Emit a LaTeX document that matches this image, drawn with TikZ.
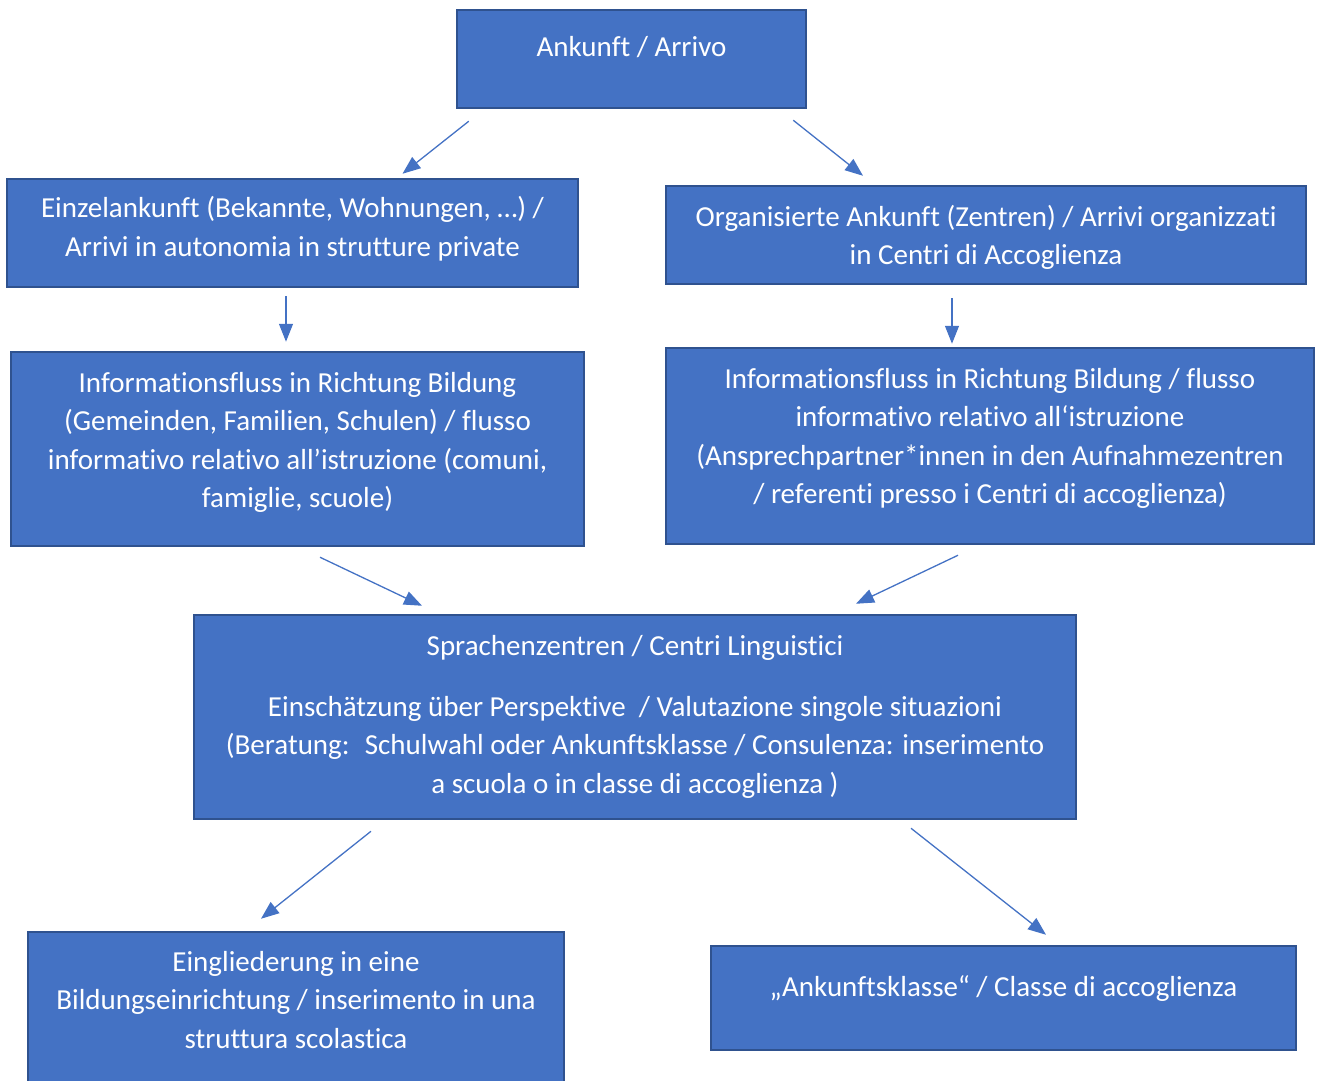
\documentclass[tikz,border=0pt]{standalone}
\usepackage{fontspec}
\setmainfont{Carlito}[Ligatures={NoCommon}]
\usetikzlibrary{arrows.meta}
\definecolor{boxblue}{HTML}{4472C4}
\definecolor{boxedge}{HTML}{2F528F}

\begin{document}
\begin{tikzpicture}[x=1pt, y=-1pt,
    stepbox/.style={draw=boxedge, line width=2.5pt, fill=boxblue, text=white,
        align=center, inner sep=0pt, font=\fontsize{29}{38.5}\selectfont},
    flow/.style={draw=boxblue, line width=1.3pt, -{Triangle[length=18pt,width=14pt]}}]
    \useasboundingbox (0,0) rectangle (1320,1081);
    % boxes
    \node[stepbox, minimum width=349, minimum height=98] (arrivo) at (631.5,59)
        {Ankunft / Arrivo\rule[-26pt]{0pt}{1pt}};
    \node[stepbox, minimum width=571, minimum height=108] (einzel) at (292.5,233)
        {Einzelankunft (Bekannte, Wohnungen, …) /\\Arrivi in autonomia in strutture private\rule[-13pt]{0pt}{1pt}};
    \node[stepbox, minimum width=640, minimum height=98] (organis) at (986,235)
        {\rule{0pt}{26pt}Organisierte Ankunft (Zentren) / Arrivi organizzati\\in Centri di Accoglienza};
    \node[stepbox, minimum width=573, minimum height=194] (infoL) at (297.5,449)
        {Informationsfluss in Richtung Bildung\\(Gemeinden, Familien, Schulen) / flusso\\informativo relativo all’istruzione (comuni,\\famiglie, scuole)\rule[-18pt]{0pt}{1pt}};
    \node[stepbox, minimum width=648, minimum height=196] (infoR) at (990,446)
        {Informationsfluss in Richtung Bildung / flusso\\informativo relativo all‘istruzione\\(Ansprechpartner*innen in den Aufnahmezentren\\/ referenti presso i Centri di accoglienza)\rule[-20pt]{0pt}{1pt}};
    \node[stepbox, minimum width=882, minimum height=204] (sprachen) at (635,717)
        {Sprachenzentren / Centri Linguistici\\[22pt]Einschätzung über Perspektive \ / Valutazione singole situazioni\\(Beratung: \ Schulwahl oder Ankunftsklasse / Consulenza: inserimento\\a scuola o in classe di accoglienza )};
    \node[stepbox, minimum width=536, minimum height=170] (eingl) at (296,1017)
        {Eingliederung in eine\\Bildungseinrichtung / inserimento in una\\struttura scolastica\rule[-35pt]{0pt}{1pt}};
    \node[stepbox, minimum width=585, minimum height=104] (klasse) at (1003.5,998)
        {„Ankunftsklasse“ / Classe di accoglienza\rule[-23pt]{0pt}{1pt}};
    % arrows
    \draw[flow] ([shift={(13,12)}]arrivo.south west) -- ([shift={(110,-4)}]einzel.north);
    \draw[flow] ([shift={(-14,11)}]arrivo.south east) -- ([shift={(-123,-9)}]organis.north);
    \draw[flow] ([shift={(-6.5,8)}]einzel.south) -- ([shift={(-11.5,-9)}]infoL.north);
    \draw[flow] ([shift={(-34,13)}]organis.south) -- ([shift={(-38,-3)}]infoR.north);
    \draw[flow] ([shift={(22.5,10)}]infoL.south) -- ([shift={(-213,-8)}]sprachen.north);
    \draw[flow] ([shift={(-32,10)}]infoR.south) -- ([shift={(221,-10)}]sprachen.north);
    \draw[flow] ([shift={(-264,11)}]sprachen.south) -- ([shift={(-35,-12)}]eingl.north);
    \draw[flow] ([shift={(276,8)}]sprachen.south) -- ([shift={(42.5,-10)}]klasse.north);
\end{tikzpicture}
\end{document}
